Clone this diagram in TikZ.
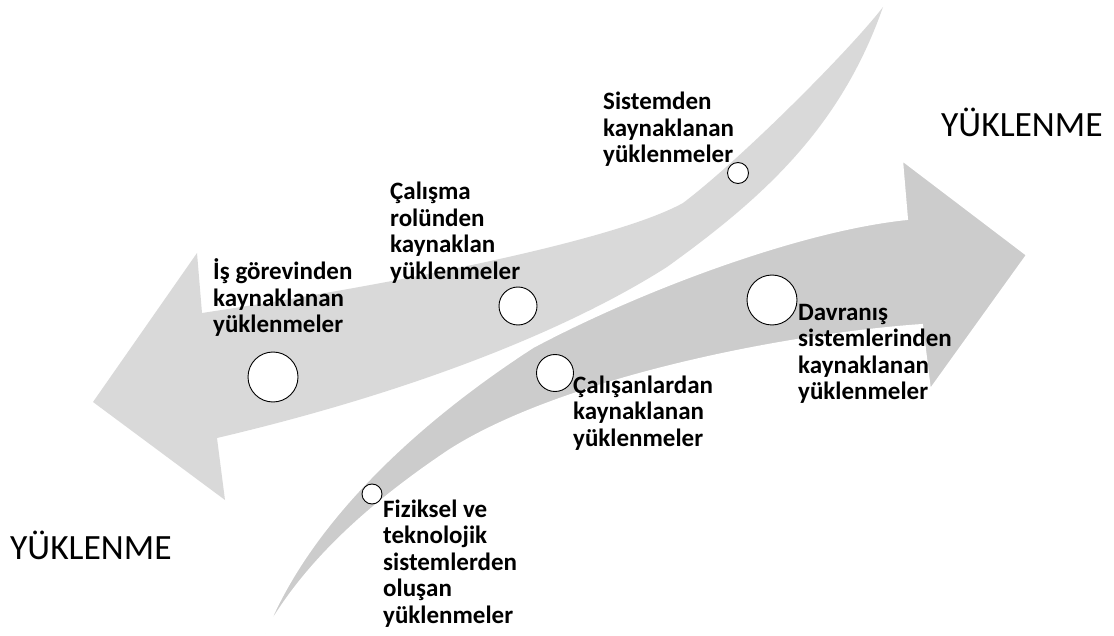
\documentclass[tikz,border=0pt]{standalone}
\usepackage{fontspec}
\setmainfont{Carlito}
\definecolor{upgray}{RGB}{217,217,217}
\definecolor{lowgray}{RGB}{204,204,204}
\tikzset{
  circ/.style={circle, draw=black, fill=white, line width=0.9pt, inner sep=0pt},
  lbl/.style={anchor=base west, align=left, inner sep=0pt, font=\bfseries\fontsize{25}{26.5}\selectfont},
  big/.style={anchor=base west, inner sep=0pt, font=\fontsize{35.5}{40}\selectfont}
}
\begin{document}
\begin{tikzpicture}[x=1pt,y=-1pt]
\useasboundingbox (0,0) rectangle (1114,636);
% upper arrow (pointing left)
\fill[upgray] (883,7) .. controls (850,50) and (740,160) .. (683,203)
  .. controls (620,238) and (420,280) .. (202,313)
  -- (197,253) -- (93,402) -- (225,500) -- (217,438)
  .. controls (400,395) and (560,335) .. (667,267)
  .. controls (760,200) and (840,130) .. (883,7) -- cycle;
% lower arrow (pointing right)
\filldraw[fill=lowgray, draw=white, line width=2pt] (265,633)
  .. controls (310,520) and (420,420) .. (533,347)
  .. controls (640,290) and (800,230) .. (907,219)
  -- (902,160) -- (1027,255) -- (930,390) -- (922,325)
  .. controls (780,335) and (560,380) .. (450,450)
  .. controls (360,510) and (300,570) .. (265,633) -- cycle;
% circles
\node[circ, minimum size=50pt] (c1) at (273,377) {};
\node[circ, minimum size=38pt] (c2) at (518,306) {};
\node[circ, minimum size=21pt] (c3) at (738,173) {};
\node[circ, minimum size=37pt] (c4) at (555,373) {};
\node[circ, minimum size=50pt] (c5) at (772,300) {};
\node[circ, minimum size=20pt] (c6) at (372,494) {};
% labels (anchored at baseline of last line)
\node[lbl] (t3) at (603,163) {Sistemden\\kaynaklanan\\yüklenmeler};
\node[lbl] (t2) at (390,279.5) {Çalışma\\rolünden\\kaynaklan\\yüklenmeler};
\node[lbl] (t1) at (213,333) {İş görevinden\\kaynaklanan\\yüklenmeler};
\node[lbl] (t4) at (573,446) {Çalışanlardan\\kaynaklanan\\yüklenmeler};
\node[lbl] (t5) at (798,399.5) {Davranış\\sistemlerinden\\kaynaklanan\\yüklenmeler};
\node[lbl] (t6) at (383,623) {Fiziksel ve\\teknolojik\\sistemlerden\\oluşan\\yüklenmeler};
\node[big] (y1) at (941,137) {YÜKLENME};
\node[big] (y2) at (10,559) {YÜKLENME};
\end{tikzpicture}
\end{document}
